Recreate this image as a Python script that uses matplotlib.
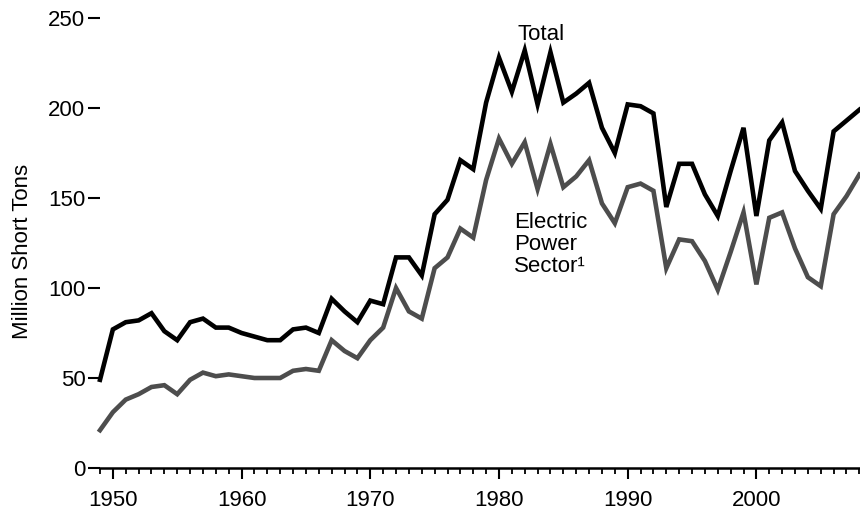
import matplotlib
matplotlib.use("Agg")
from matplotlib import pyplot as plt

plt.rcParams["font.family"] = ["Liberation Sans", "DejaVu Sans"]

# Coal stocks, million short tons
years = list(range(1949, 2009))

total = [
    49, 77, 81, 82, 86, 76, 71, 81, 83, 78,
    78, 75, 73, 71, 71, 77, 78, 75, 94, 87,
    81, 93, 91, 117, 117, 107, 141, 149, 171, 166,
    203, 228, 209, 232, 202, 231, 203, 208, 214, 189,
    175, 202, 201, 197, 145, 169, 169, 152, 140, 165,
    189, 140, 182, 192, 165, 154, 144, 187, 193, 199,
]

electric = [
    21, 31, 38, 41, 45, 46, 41, 49, 53, 51,
    52, 51, 50, 50, 50, 54, 55, 54, 71, 65,
    61, 71, 78, 100, 87, 83, 111, 117, 133, 128,
    160, 183, 169, 181, 155, 180, 156, 162, 171, 147,
    136, 156, 158, 154, 111, 127, 126, 115, 99, 120,
    142, 102, 139, 142, 122, 106, 101, 141, 151, 163,
]

y_ticks = [0, 50, 100, 150, 200, 250]
x_ticks = [1950, 1960, 1970, 1980, 1990, 2000]

fig = plt.figure(figsize=(8.6, 5.15), dpi=100)
ax = fig.add_axes([100 / 860, 47 / 515, 760 / 860, 450 / 515])

ax.plot(years, total, color="#000000", lw=3.3, solid_joinstyle="miter", clip_on=False)
ax.plot(years, electric, color="#4d4d4d", lw=3.3, solid_joinstyle="miter", clip_on=False)

ax.set_xlim(1949, 2008.05)
ax.set_ylim(0, 250)

for side in ["left", "right", "top"]:
    ax.spines[side].set_visible(False)
ax.spines["bottom"].set_linewidth(1.8)

ax.set_xticks(x_ticks)
ax.set_xticks(years, minor=True)
ax.set_yticks(y_ticks)
ax.tick_params(axis="x", which="major", direction="out", length=8, width=1.5, pad=8, labelsize=16)
ax.tick_params(axis="x", which="minor", direction="out", length=4.5, width=1.3)
ax.tick_params(axis="y", which="major", direction="out", length=9, width=1.5, pad=1.5, labelsize=16)

fig.text(23 / 860, 1 - 251 / 515, "Million Short Tons", rotation=90,
         ha="center", va="center", fontsize=16)

ax.text(1983.3, 241, "Total", ha="center", va="center", fontsize=16)
ax.text(1981.2, 124.0, "Electric\nPower\nSector\u00b9", ha="left", va="center",
        fontsize=16, linespacing=1.05)

fig.savefig("out.png", dpi=100)
